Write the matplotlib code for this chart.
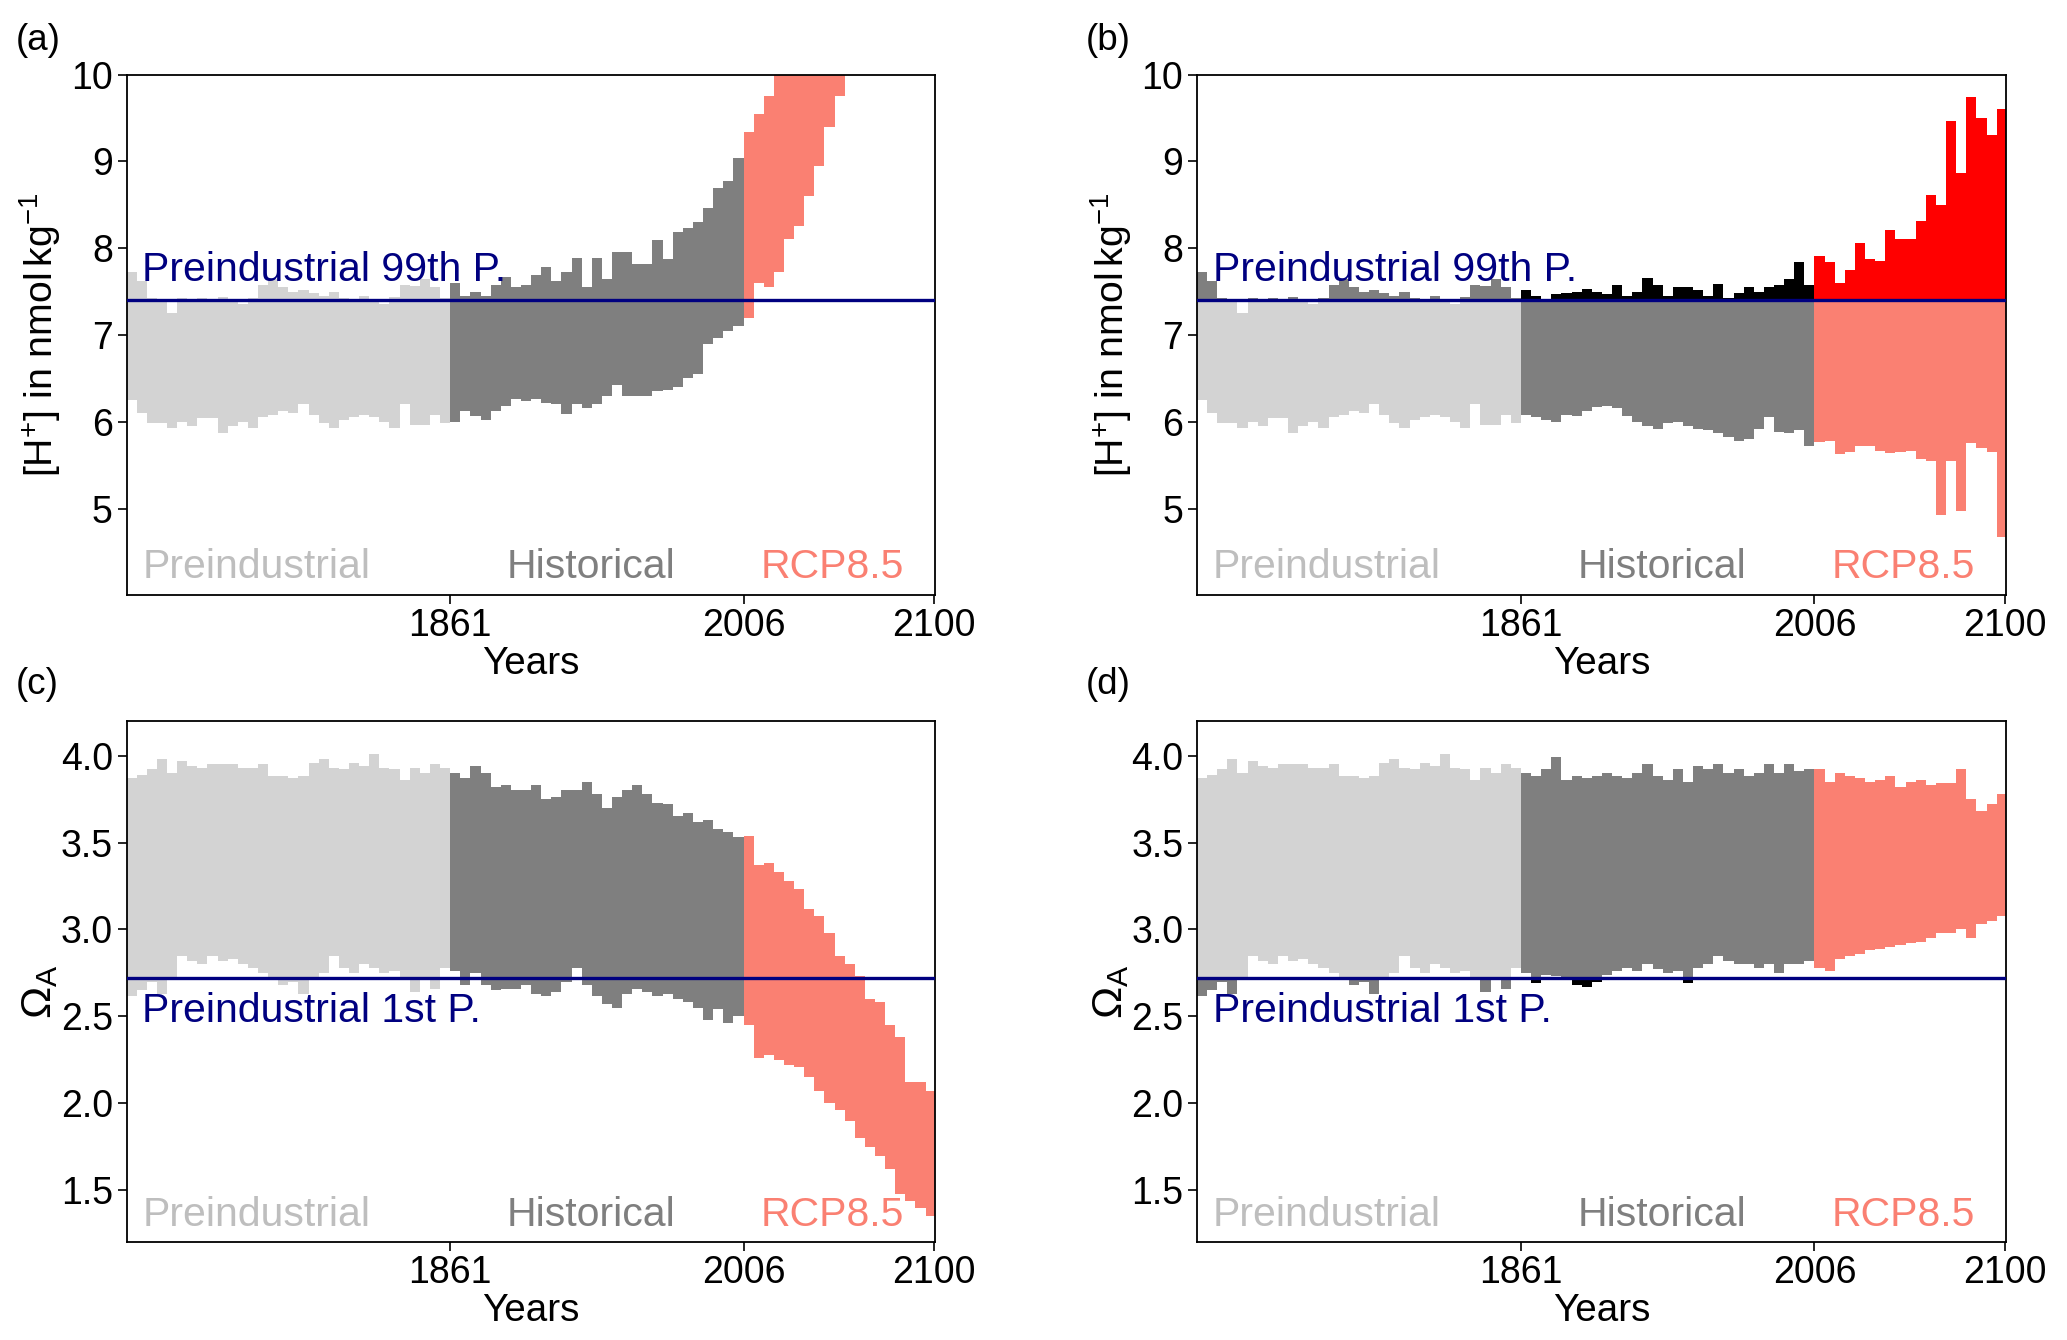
import numpy as np
import matplotlib
matplotlib.use("Agg")
import matplotlib.pyplot as plt

plt.rcParams['font.family'] = ['Liberation Sans', 'DejaVu Sans']
plt.rcParams['mathtext.fontset'] = 'custom'
plt.rcParams['mathtext.rm'] = 'Liberation Sans'
plt.rcParams['mathtext.it'] = 'Liberation Sans:italic'
plt.rcParams['mathtext.bf'] = 'Liberation Sans:bold'

# ---------------- data (5-year envelope bins: min / max) ----------------
PI_EDGES = np.arange(1701, 1862, 5)     # preindustrial 1701-1860
HIST_EDGES = np.arange(1861, 2007, 5)   # historical 1861-2005
RCP_EDGES = np.arange(2006, 2102, 5)    # RCP8.5 2006-2100

H_P99 = 7.40      # preindustrial 99th percentile of [H+]
OMEGA_P1 = 2.72   # preindustrial 1st percentile of Omega_A

# [H+] (nmol/kg) -- preindustrial (shared by a and b)
H_PI_HI = [7.72, 7.62, 7.43, 7.40, 7.25, 7.42, 7.38, 7.42, 7.38, 7.44, 7.40,
           7.36, 7.43, 7.58, 7.65, 7.55, 7.50, 7.52, 7.48, 7.45, 7.50, 7.42,
           7.38, 7.45, 7.40, 7.36, 7.44, 7.57, 7.56, 7.65, 7.55, 7.42]
H_PI_LO = [6.25, 6.10, 5.98, 5.98, 5.93, 6.00, 5.95, 6.04, 6.04, 5.87, 5.95,
           6.00, 5.93, 6.05, 6.08, 6.12, 6.10, 6.20, 6.08, 5.98, 5.93, 6.02,
           6.05, 6.08, 6.05, 6.00, 5.93, 6.20, 5.96, 5.96, 6.08, 5.98]

# (a) [H+] historical and RCP8.5
H_HIST_HI_A = [7.60, 7.45, 7.50, 7.45, 7.58, 7.67, 7.55, 7.57, 7.69, 7.78,
               7.62, 7.72, 7.89, 7.55, 7.89, 7.65, 7.96, 7.95, 7.82, 7.82,
               8.09, 7.88, 8.19, 8.23, 8.30, 8.46, 8.69, 8.77, 9.04]
H_HIST_LO_A = [6.00, 6.12, 6.07, 6.02, 6.12, 6.18, 6.26, 6.24, 6.26, 6.22,
               6.20, 6.09, 6.20, 6.16, 6.20, 6.30, 6.42, 6.30, 6.30, 6.30,
               6.35, 6.37, 6.40, 6.50, 6.55, 6.90, 6.96, 7.05, 7.10]
H_RCP_HI_A = [9.34, 9.54, 9.75, 10.05, 10.4, 10.8, 11.2, 11.6, 12.0, 12.4,
              12.8, 13.2, 13.6, 14.0, 14.4, 14.8, 15.2, 15.6, 16.0]
H_RCP_LO_A = [7.19, 7.60, 7.55, 7.72, 8.10, 8.25, 8.60, 8.95, 9.40, 9.75,
              10.15, 10.6, 11.0, 11.5, 12.0, 12.5, 13.0, 13.5, 14.0]

# (b) [H+] historical and RCP8.5
H_HIST_HI_B = [7.52, 7.45, 7.40, 7.47, 7.48, 7.50, 7.53, 7.50, 7.47, 7.57,
               7.45, 7.50, 7.66, 7.58, 7.45, 7.55, 7.55, 7.52, 7.45, 7.59,
               7.43, 7.48, 7.55, 7.50, 7.55, 7.58, 7.65, 7.84, 7.58]
H_HIST_LO_B = [6.08, 6.05, 6.02, 6.00, 6.08, 6.07, 6.12, 6.17, 6.18, 6.16,
               6.07, 6.00, 5.95, 5.92, 5.98, 6.00, 5.95, 5.92, 5.90, 5.87,
               5.83, 5.78, 5.80, 5.92, 6.05, 5.88, 5.87, 5.90, 5.72]
H_RCP_HI_B = [7.91, 7.84, 7.60, 7.75, 8.06, 7.87, 7.85, 8.21, 8.11, 8.10,
              8.31, 8.61, 8.50, 9.46, 8.86, 9.74, 9.50, 9.30, 9.60]
H_RCP_LO_B = [5.77, 5.78, 5.63, 5.65, 5.72, 5.72, 5.66, 5.64, 5.65, 5.66,
              5.57, 5.55, 4.92, 5.55, 4.97, 5.75, 5.70, 5.65, 4.67]

# Omega_A -- preindustrial (shared by c and d)
O_PI_HI = [3.87, 3.89, 3.92, 3.98, 3.90, 3.97, 3.94, 3.93, 3.95, 3.95, 3.95,
           3.93, 3.93, 3.95, 3.88, 3.88, 3.87, 3.88, 3.96, 3.98, 3.93, 3.92,
           3.96, 3.94, 4.01, 3.93, 3.92, 3.86, 3.93, 3.90, 3.95, 3.93]
O_PI_LO = [2.62, 2.65, 2.70, 2.63, 2.72, 2.85, 2.82, 2.80, 2.85, 2.82, 2.83,
           2.80, 2.78, 2.75, 2.72, 2.68, 2.70, 2.63, 2.72, 2.75, 2.85, 2.78,
           2.75, 2.80, 2.78, 2.75, 2.76, 2.72, 2.64, 2.72, 2.66, 2.78]

# (c) Omega_A historical and RCP8.5
O_HIST_HI_C = [3.90, 3.87, 3.94, 3.90, 3.82, 3.83, 3.80, 3.80, 3.83, 3.75,
               3.76, 3.80, 3.80, 3.85, 3.78, 3.70, 3.76, 3.80, 3.83, 3.78,
               3.73, 3.72, 3.65, 3.67, 3.62, 3.63, 3.58, 3.56, 3.53]
O_HIST_LO_C = [2.76, 2.68, 2.75, 2.68, 2.65, 2.66, 2.66, 2.68, 2.63, 2.62,
               2.64, 2.70, 2.78, 2.68, 2.62, 2.57, 2.55, 2.63, 2.66, 2.64,
               2.62, 2.63, 2.60, 2.58, 2.55, 2.48, 2.54, 2.46, 2.50]
O_RCP_HI_C = [3.54, 3.37, 3.38, 3.33, 3.28, 3.23, 3.12, 3.08, 2.98, 2.85,
              2.80, 2.73, 2.60, 2.58, 2.45, 2.38, 2.12, 2.12, 2.07]
O_RCP_LO_C = [2.45, 2.26, 2.28, 2.25, 2.22, 2.21, 2.15, 2.07, 2.00, 1.96,
              1.90, 1.80, 1.75, 1.70, 1.62, 1.48, 1.44, 1.40, 1.35]

# (d) Omega_A historical and RCP8.5
O_HIST_HI_D = [3.90, 3.88, 3.92, 3.99, 3.86, 3.88, 3.87, 3.88, 3.90, 3.88,
               3.87, 3.90, 3.95, 3.88, 3.86, 3.92, 3.85, 3.94, 3.92, 3.95,
               3.90, 3.92, 3.88, 3.90, 3.95, 3.90, 3.95, 3.91, 3.92]
O_HIST_LO_D = [2.75, 2.69, 2.74, 2.73, 2.72, 2.68, 2.67, 2.70, 2.74, 2.76,
               2.78, 2.76, 2.80, 2.77, 2.75, 2.76, 2.69, 2.78, 2.80, 2.85,
               2.82, 2.80, 2.80, 2.78, 2.80, 2.75, 2.80, 2.80, 2.82]
O_RCP_HI_D = [3.92, 3.85, 3.90, 3.88, 3.87, 3.85, 3.86, 3.88, 3.82, 3.85,
              3.86, 3.83, 3.84, 3.84, 3.92, 3.75, 3.68, 3.72, 3.78]
O_RCP_LO_D = [2.78, 2.76, 2.83, 2.85, 2.86, 2.88, 2.89, 2.90, 2.91, 2.92,
              2.93, 2.95, 2.98, 2.98, 3.00, 2.95, 3.03, 3.05, 3.08]

PERIOD_LABELS = ["Preindustrial", "Historical", "RCP8.5"]
X_TICKS = [1861, 2006, 2100]

# ---------------- styling ----------------
C_PI, C_HIST, C_RCP = "#D3D3D3", "#7F7F7F", "#FA8072"
C_PI_HL, C_HIST_HL, C_RCP_HL = "#7F7F7F", "#000000", "#FF0000"
C_TXT = ["#BEBEBE", "#7F7F7F", "#FA8072"]
NAVY = "#000080"

fig = plt.figure(figsize=(20.67, 13.40), dpi=100)
positions = {
    'a': [0.0612, 0.5557, 0.3911, 0.3887],
    'b': [0.5791, 0.5557, 0.3914, 0.3887],
    'c': [0.0612, 0.0728, 0.3911, 0.3893],
    'd': [0.5791, 0.0728, 0.3914, 0.3893],
}


def draw_panel(ax, segs, thr, mode, kind):
    for edges, lo, hi, col, hcol in segs:
        lo = np.asarray(lo, float)
        hi = np.asarray(hi, float)
        ax.stairs(hi, edges, baseline=lo, fill=True, color=col, lw=0)
        if mode == 'above':
            top = np.maximum(hi, thr)
            ax.stairs(top, edges, baseline=np.full(len(top), thr), fill=True,
                      color=hcol, lw=0)
        elif mode == 'below':
            bot = np.minimum(lo, thr)
            ax.stairs(np.full(len(bot), thr), edges, baseline=bot, fill=True,
                      color=hcol, lw=0)
    ax.axhline(thr, color=NAVY, lw=2.4, zorder=5)
    ax.set_xlim(1701, 2100.6)
    ax.set_xticks(X_TICKS)
    ax.set_xticklabels([str(t) for t in X_TICKS])
    ax.tick_params(axis='x', direction='out', length=6.5, width=1.2,
                   labelsize=27, pad=2.5)
    ax.tick_params(axis='y', direction='out', length=6.5, width=1.2,
                   labelsize=27, pad=3.4)
    for s in ax.spines.values():
        s.set_linewidth(1.3)
    ax.set_xlabel("Years", fontsize=27.8)
    ax.xaxis.set_label_coords(0.5, -0.097)
    if kind == 'H':
        ax.set_ylim(4, 10)
        ax.set_yticks([5, 6, 7, 8, 9, 10])
        ax.set_ylabel(r"[H$^{+}$] in nmol$\,$kg$^{-1}$", fontsize=28.3)
        ax.yaxis.set_label_coords(-0.078, 0.5)
        ax.text(1708.8, 7.62, "Preindustrial 99th P.", color=NAVY,
                fontsize=29.5, ha='left', va='baseline', zorder=6)
        ybase = 4.20
    else:
        ax.set_ylim(1.2, 4.2)
        yt = [1.5, 2.0, 2.5, 3.0, 3.5, 4.0]
        ax.set_yticks(yt)
        ax.set_yticklabels([f"{v:.1f}" for v in yt])
        ax.set_ylabel(r"$\mathrm{\Omega_A}$", fontsize=31)
        ax.yaxis.set_label_coords(-0.082, 0.48)
        ax.text(1708.8, 2.465, "Preindustrial 1st P.", color=NAVY,
                fontsize=29.5, ha='left', va='baseline', zorder=6)
        ybase = 1.295
    for xl, lab, c in zip([1708.8, 1889.0, 2014.5], PERIOD_LABELS, C_TXT):
        ax.text(xl, ybase, lab, color=c, fontsize=29.5, ha='left',
                va='baseline', zorder=6)


ax_a = fig.add_axes(positions['a'])
draw_panel(ax_a, [
    (PI_EDGES, H_PI_LO, H_PI_HI, C_PI, None),
    (HIST_EDGES, H_HIST_LO_A, H_HIST_HI_A, C_HIST, None),
    (RCP_EDGES, H_RCP_LO_A, H_RCP_HI_A, C_RCP, None),
], H_P99, None, 'H')

ax_b = fig.add_axes(positions['b'])
draw_panel(ax_b, [
    (PI_EDGES, H_PI_LO, H_PI_HI, C_PI, C_PI_HL),
    (HIST_EDGES, H_HIST_LO_B, H_HIST_HI_B, C_HIST, C_HIST_HL),
    (RCP_EDGES, H_RCP_LO_B, H_RCP_HI_B, C_RCP, C_RCP_HL),
], H_P99, 'above', 'H')

ax_c = fig.add_axes(positions['c'])
draw_panel(ax_c, [
    (PI_EDGES, O_PI_LO, O_PI_HI, C_PI, None),
    (HIST_EDGES, O_HIST_LO_C, O_HIST_HI_C, C_HIST, None),
    (RCP_EDGES, O_RCP_LO_C, O_RCP_HI_C, C_RCP, None),
], OMEGA_P1, None, 'O')

ax_d = fig.add_axes(positions['d'])
draw_panel(ax_d, [
    (PI_EDGES, O_PI_LO, O_PI_HI, C_PI, C_PI_HL),
    (HIST_EDGES, O_HIST_LO_D, O_HIST_HI_D, C_HIST, C_HIST_HL),
    (RCP_EDGES, O_RCP_LO_D, O_RCP_HI_D, C_RCP, C_RCP_HL),
], OMEGA_P1, 'below', 'O')

for lab, x, y in [("(a)", 16, 41), ("(b)", 1086, 41),
                  ("(c)", 16, 685), ("(d)", 1086, 685)]:
    fig.text(x / 2067, 1 - y / 1340, lab, ha='left', va='center', fontsize=26.5)

fig.savefig("out.png", dpi=100)
